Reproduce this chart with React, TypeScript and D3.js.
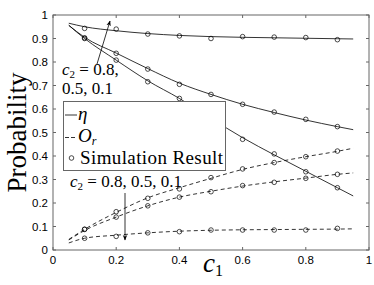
import React from "react"
import * as d3 from "d3"

// c1 sample points for the analytic curves and for the simulation markers
const lineX = [0.05, 0.1, 0.2, 0.3, 0.4, 0.5, 0.6, 0.7, 0.8, 0.9, 0.95]
const simX = [0.1, 0.2, 0.3, 0.4, 0.5, 0.6, 0.7, 0.8, 0.9]

// eta (solid), c2 = 0.8, 0.5, 0.1
const etaHigh = [0.965, 0.95, 0.933, 0.921, 0.913, 0.908, 0.905, 0.903, 0.901, 0.899, 0.898]
const etaMid = [0.956, 0.905, 0.838, 0.772, 0.71, 0.662, 0.62, 0.585, 0.553, 0.525, 0.512]
const etaLow = [0.956, 0.9, 0.808, 0.72, 0.645, 0.56, 0.478, 0.405, 0.335, 0.265, 0.23]

// O_r (dashed)
const orHigh = [0.045, 0.088, 0.16, 0.222, 0.265, 0.305, 0.343, 0.372, 0.397, 0.42, 0.433]
const orMid = [0.043, 0.083, 0.14, 0.188, 0.225, 0.25, 0.272, 0.29, 0.306, 0.322, 0.328]
const orLow = [0.03, 0.05, 0.063, 0.073, 0.08, 0.084, 0.086, 0.087, 0.088, 0.089, 0.09]

// simulation results
const simEtaHigh = [0.943, 0.94, 0.919, 0.911, 0.9, 0.908, 0.906, 0.904, 0.895]
const simEtaMid = [0.903, 0.837, 0.77, 0.705, 0.662, 0.62, 0.587, 0.556, 0.525]
const simEtaLow = [0.9, 0.808, 0.716, 0.645, 0.555, 0.471, 0.409, 0.333, 0.265]
const simOrHigh = [0.088, 0.163, 0.22, 0.26, 0.308, 0.345, 0.372, 0.397, 0.421]
const simOrMid = [0.088, 0.14, 0.188, 0.225, 0.248, 0.274, 0.288, 0.305, 0.322]
const simOrLow = [0.05, 0.058, 0.073, 0.078, 0.085, 0.085, 0.085, 0.085, 0.092]

const xTicks = [0, 0.2, 0.4, 0.6, 0.8, 1]
const yTicks = [0, 0.1, 0.2, 0.3, 0.4, 0.5, 0.6, 0.7, 0.8, 0.9, 1]

const width = 374
const height = 285
const margin = { top: 15, right: 5, bottom: 35, left: 53 }

const serif = "'Liberation Serif', 'Times New Roman', serif"
const sans = "'Liberation Sans', Arial, sans-serif"

export default function App() {
    const x = d3.scaleLinear().domain([0, 1]).range([margin.left, width - margin.right])
    const y = d3.scaleLinear().domain([0, 1]).range([height - margin.bottom, margin.top])

    const line = d3.line<number>()
        .x((d, i) => x(lineX[i]))
        .y(d => y(d))
        .curve(d3.curveMonotoneX)

    const solid = [etaHigh, etaMid, etaLow]
    const dashed = [orHigh, orMid, orLow]
    const sims = [simEtaHigh, simEtaMid, simEtaLow, simOrHigh, simOrMid, simOrLow]

    const x0 = x(0), x1 = x(1), y0 = y(0), y1 = y(1)

    return (
        <svg width={width} height={height} style={{ position: "absolute", left: 0, top: 0, background: "#fff" }}>
            <defs>
                <marker id="arr" viewBox="0 0 10 10" refX="9" refY="5" markerWidth="7" markerHeight="7" orient="auto-start-reverse">
                    <path d="M0,1 L10,5 L0,9 L3,5 Z" fill="#000" />
                </marker>
            </defs>

            {/* curves */}
            {solid.map((s, i) => (
                <path key={"s" + i} d={line(s) || ""} fill="none" stroke="#000" strokeWidth={0.8} />
            ))}
            {dashed.map((s, i) => (
                <path key={"d" + i} d={line(s) || ""} fill="none" stroke="#000" strokeWidth={0.8} strokeDasharray="4,3" />
            ))}
            {sims.map((s, i) => (
                <g key={"m" + i}>
                    {s.map((v, j) => (
                        <circle key={j} cx={x(simX[j])} cy={y(v)} r={2.3} fill="none" stroke="#000" strokeWidth={0.7} />
                    ))}
                </g>
            ))}

            {/* frame and ticks */}
            <rect x={x0} y={y1} width={x1 - x0} height={y0 - y1} fill="none" stroke="#666" strokeWidth={1} />
            {xTicks.map(t => (
                <g key={"xt" + t}>
                    <line x1={x(t)} x2={x(t)} y1={y0} y2={y0 - 3} stroke="#666" />
                    <line x1={x(t)} x2={x(t)} y1={y1} y2={y1 + 3} stroke="#666" />
                    <text x={x(t)} y={y0 + 14} textAnchor="middle" fontFamily={sans} fontSize={11.5}>{d3.format("~g")(t)}</text>
                </g>
            ))}
            {yTicks.map(t => (
                <g key={"yt" + t}>
                    <line x1={x0} x2={x0 + 3} y1={y(t)} y2={y(t)} stroke="#666" />
                    <line x1={x1} x2={x1 - 3} y1={y(t)} y2={y(t)} stroke="#666" />
                    <text x={x0 - 5} y={y(t) + 4} textAnchor="end" fontFamily={sans} fontSize={11.5}>{d3.format("~g")(t)}</text>
                </g>
            ))}

            {/* legend */}
            <g>
                <rect x={63.5} y={101.5} width={162} height={69} fill="#fff" stroke="#666" strokeWidth={1} />
                <line x1={65} x2={77} y1={115} y2={115} stroke="#000" strokeWidth={0.8} />
                <text x={78} y={120} fontFamily={serif} fontSize={19} fontStyle="italic">η</text>
                <line x1={65} x2={77} y1={137.5} y2={137.5} stroke="#000" strokeWidth={0.8} strokeDasharray="4,2" />
                <text x={78} y={142} fontFamily={serif} fontSize={19} fontStyle="italic">
                    O<tspan fontSize={12} dy={3}>r</tspan>
                </text>
                <circle cx={71.5} cy={158} r={2.3} fill="none" stroke="#000" strokeWidth={0.7} />
                <text x={80} y={164} fontFamily={serif} fontSize={19} textLength={143} lengthAdjust="spacing">Simulation Result</text>
            </g>

            {/* annotations */}
            <line x1={97} x2={110} y1={64} y2={21} stroke="#000" strokeWidth={0.8} markerEnd="url(#arr)" />
            <text x={62} y={75} fontFamily={serif} fontSize={17}>
                <tspan fontStyle="italic">c</tspan><tspan fontSize={11} dy={3}>2</tspan><tspan dy={-3}> = 0.8,</tspan>
            </text>
            <text x={62} y={94} fontFamily={serif} fontSize={17}>0.5, 0.1</text>

            <text x={70} y={187} fontFamily={serif} fontSize={17}>
                <tspan fontStyle="italic">c</tspan><tspan fontSize={11} dy={3}>2</tspan><tspan dy={-3}> = 0.8, 0.5, 0.1</tspan>
            </text>
            <line x1={125} x2={125} y1={193} y2={240} stroke="#000" strokeWidth={0.8} markerEnd="url(#arr)" />

            {/* axis labels */}
            <text transform={`translate(26,${(y0 + y1) / 2}) rotate(-90)`} textAnchor="middle" fontFamily={serif} fontSize={27}>Probability</text>
            <text x={203} y={272} fontFamily={serif} fontSize={27} fontStyle="italic">
                c<tspan fontStyle="normal" fontSize={16} dy={4}>1</tspan>
            </text>
        </svg>
    )
}
